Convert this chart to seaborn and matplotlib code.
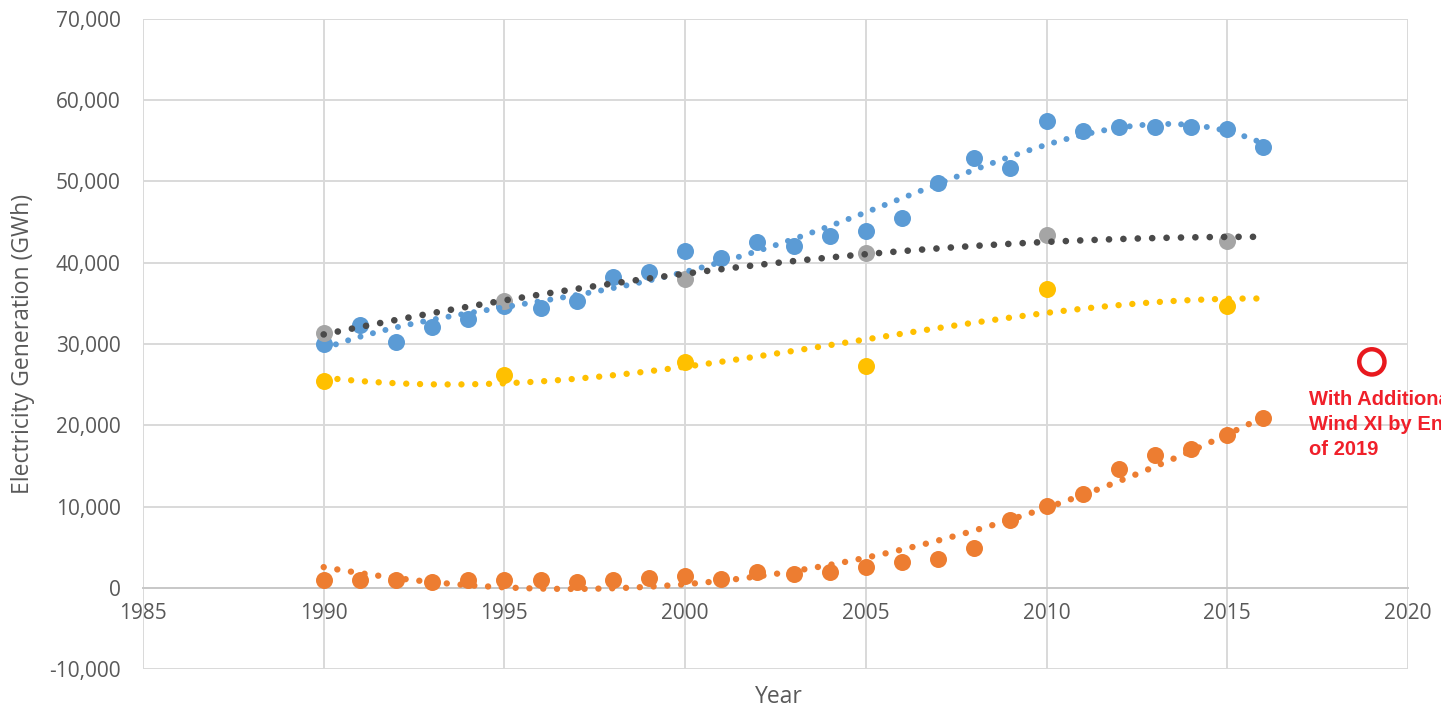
import numpy as np
import pandas as pd
import matplotlib
matplotlib.use("Agg")
import matplotlib.pyplot as plt
import seaborn as sns

# ---- data ----
years = list(range(1990, 2017))
blue_gwh = [30000, 32300, 30300, 32100, 33100, 34700, 34400, 35300, 38300, 38900,
            41500, 40600, 42500, 42100, 43300, 43900, 45500, 49800, 52900, 51700,
            57400, 56200, 56700, 56700, 56700, 56500, 54200]
orange_gwh = [900, 900, 900, 700, 1000, 1000, 1000, 700, 1000, 1200,
              1500, 1100, 1900, 1700, 1900, 2600, 3200, 3600, 4900, 8400,
              10100, 11600, 14600, 16400, 17100, 18800, 20900]
five_years = [1990, 1995, 2000, 2005, 2010, 2015]
gray_gwh = [31400, 35300, 38000, 41200, 43400, 42700]
yellow_gwh = [25400, 26200, 27800, 27300, 36800, 34700]

target_year = [2019]
target_gwh = [27800]
note = "With Additional\nWind XI by End\nof 2019"

# polynomial order used for each trendline
blue_order, orange_order, gray_order, yellow_order = 4, 2, 2, 3

BLUE, ORANGE, GRAY, YELLOW = "#5B9BD5", "#ED7D31", "#A5A5A5", "#FFC000"
GRAY_TREND = "#4A4A4A"
TXT = "#595959"

sns.set_style("white")
plt.rcParams["font.family"] = ["Open Sans", "DejaVu Sans"]

fig = plt.figure(figsize=(14.41, 7.06), dpi=100)
ax = fig.add_axes([0.0992, 0.0524, 0.8779, 0.9207])

# scatter points
series = [(years, blue_gwh, BLUE), (years, orange_gwh, ORANGE),
          (five_years, gray_gwh, GRAY), (five_years, yellow_gwh, YELLOW)]
for xs, ys, c in series:
    sns.scatterplot(x=xs, y=ys, ax=ax, color=c, s=150, linewidth=0, zorder=3,
                    legend=False)

# polynomial trendlines (fitted from the points above), extended to 2016
grid = np.linspace(1990, 2016, 300)
trends = [(years, blue_gwh, blue_order, BLUE, 4.3),
          (years, orange_gwh, orange_order, ORANGE, 4.6),
          (five_years, gray_gwh, gray_order, GRAY_TREND, 4.8),
          (five_years, yellow_gwh, yellow_order, YELLOW, 4.6)]
for xs, ys, order, c, lw in trends:
    coef = np.polyfit(np.array(xs) - 1990, ys, order)
    fit = np.polyval(coef, grid - 1990)
    line = sns.lineplot(x=grid, y=fit, ax=ax, color=c, linewidth=lw, zorder=4)
    ln = line.lines[-1]
    ln.set_linestyle((0, (0.01, 2.15)))
    ln.set_dash_capstyle("round")

# red target marker and note
ax.scatter(target_year, target_gwh, s=330, facecolors="none", edgecolors="#E8191E",
           linewidths=3.2, zorder=5)
ax.text(2017.25, 24300, note, color="#F0202A", fontsize=14.5, fontweight="bold",
        family=["Liberation Sans", "DejaVu Sans"], va="top", ha="left",
        linespacing=1.4, clip_on=False)

ax.set_xlim(1985, 2020)
ax.set_ylim(-10000, 70000)
ax.set_xticks(range(1985, 2021, 5))
ax.set_yticks(range(-10000, 70001, 10000))
ax.yaxis.set_major_formatter(matplotlib.ticker.FuncFormatter(lambda v, p: f"{int(v):,}"))

ax.grid(True, color="#D9D9D9", linewidth=1.4)
ax.set_axisbelow(True)
for side in ["top", "right", "left"]:
    ax.spines[side].set_visible(False)
ax.spines["bottom"].set_position(("data", 0))
ax.spines["bottom"].set_color("#C8C8C8")
ax.spines["bottom"].set_linewidth(1.4)

ax.tick_params(axis="x", length=0, pad=11, labelsize=15, labelcolor=TXT)
ax.tick_params(axis="y", length=0, pad=16, labelsize=15, labelcolor=TXT)

ax.set_xlabel("Year", fontsize=16.5, color=TXT)
ax.xaxis.set_label_coords(0.503, -0.024)
ax.set_ylabel("Electricity Generation (GWh)", fontsize=16.5, color=TXT)
ax.yaxis.set_label_coords(-0.085, 0.5)

fig.savefig("out.png", dpi=100)
